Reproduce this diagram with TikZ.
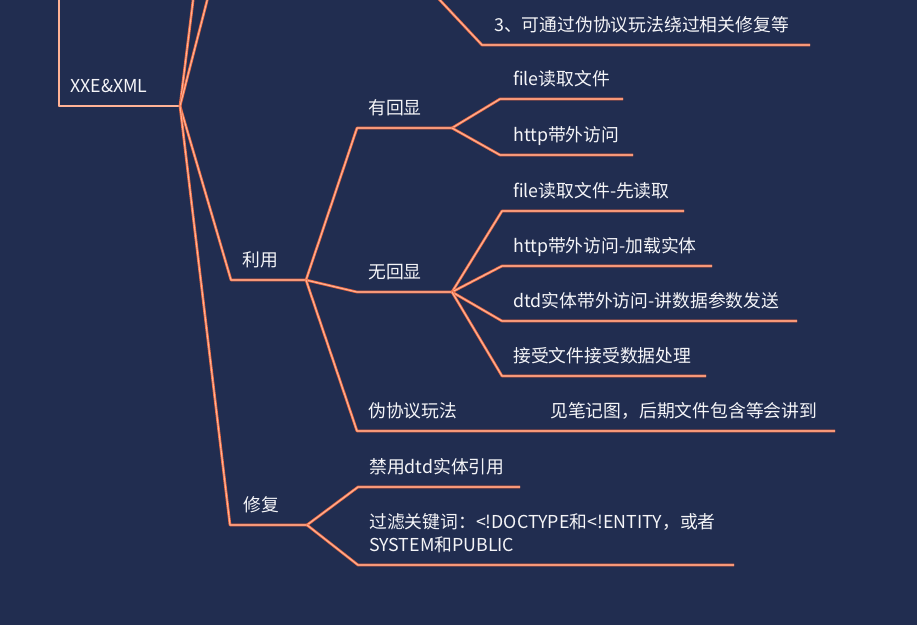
\documentclass[tikz,border=0pt]{standalone}
\usepackage{fontspec}
\setmainfont{Noto Sans CJK SC}
\definecolor{bgnavy}{RGB}{33,45,80}
\definecolor{brorange}{RGB}{236,106,66}
\definecolor{brlight}{RGB}{255,178,150}
\definecolor{txtwhite}{RGB}{245,245,248}
\begin{document}
\begin{tikzpicture}[x=1pt,y=-1pt,
  branch/.style={draw=brorange,line width=0.8pt,double=brlight,double distance=1.1pt,line join=round},
  lbl/.style={text=txtwhite,font=\fontsize{17.8}{23}\selectfont,inner sep=0pt,anchor=base west}]
\useasboundingbox (0,0) rectangle (917,625);
\fill[bgnavy] (0,0) rectangle (917,625);
% coordinates
\coordinate (top0) at (59,-3);
\coordinate (upA) at (193.5,-3);
\coordinate (upB) at (208,-3);
\coordinate (upC) at (437,-3);
\coordinate (xxeS) at (59,106);
\coordinate (xxeF) at (180,106);
\coordinate (p3S) at (482,45);
\coordinate (p3E) at (810,45);
\coordinate (lyS) at (231,280);
\coordinate (lyF) at (306,280);
\coordinate (yhS) at (357,128);
\coordinate (yhF) at (452,128);
\coordinate (whS) at (357,292);
\coordinate (whF) at (452,292);
\coordinate (wyS) at (357,431);
\coordinate (wyE) at (835,431);
\coordinate (xfS) at (230,525);
\coordinate (xfF) at (307,525);
\coordinate (jyS) at (358,487);
\coordinate (jyE) at (520,487);
\coordinate (glS) at (358,565);
\coordinate (glE) at (734,565);
\coordinate (f1S) at (500,99);
\coordinate (f1E) at (623,99);
\coordinate (h1S) at (500,155);
\coordinate (h1E) at (633,155);
\coordinate (f2S) at (502,211);
\coordinate (f2E) at (684,211);
\coordinate (h2S) at (502,266);
\coordinate (h2E) at (712,266);
\coordinate (d2S) at (502,321);
\coordinate (d2E) at (797,321);
\coordinate (r2S) at (502,376);
\coordinate (r2E) at (706,376);
% connectors
\draw[branch] (top0) -- (xxeS) -- (xxeF);
\draw[branch] (xxeF) -- (upA);
\draw[branch] (xxeF) -- (upB);
\draw[branch] (upC) -- (p3S) -- (p3E);
\draw[branch] (xxeF) -- (lyS) -- (lyF);
\draw[branch] (xxeF) -- (xfS) -- (xfF);
\draw[branch] (lyF) -- (yhS) -- (yhF);
\draw[branch] (lyF) -- (whS) -- (whF);
\draw[branch] (lyF) -- (wyS) -- (wyE);
\draw[branch] (yhF) -- (f1S) -- (f1E);
\draw[branch] (yhF) -- (h1S) -- (h1E);
\draw[branch] (whF) -- (f2S) -- (f2E);
\draw[branch] (whF) -- (h2S) -- (h2E);
\draw[branch] (whF) -- (d2S) -- (d2E);
\draw[branch] (whF) -- (r2S) -- (r2E);
\draw[branch] (xfF) -- (jyS) -- (jyE);
\draw[branch] (xfF) -- (glS) -- (glE);
% labels
\node[lbl] (p3) at ([xshift=12pt,yshift=14pt]p3S) {3、可通过伪协议玩法绕过相关修复等};
\node[lbl] (xxe) at ([xshift=11pt,yshift=14pt]xxeS) {XXE\&XML};
\node[lbl] (ly) at ([xshift=11pt,yshift=14pt]lyS) {利用};
\node[lbl] (yh) at ([xshift=11pt,yshift=14pt]yhS) {有回显};
\node[lbl] (wh) at ([xshift=11pt,yshift=14pt]whS) {无回显};
\node[lbl] (wy) at ([xshift=11pt,yshift=14pt]wyS) {伪协议玩法};
\node[lbl] (wyn) at ([xshift=193pt,yshift=14pt]wyS) {见笔记图，后期文件包含等会讲到};
\node[lbl] (xf) at ([xshift=13pt,yshift=14pt]xfS) {修复};
\node[lbl] (jy) at ([xshift=11pt,yshift=14pt]jyS) {禁用dtd实体引用};
\node[lbl,align=left] (gl) at ([xshift=11pt,yshift=14pt]glS) {过滤关键词：<!DOCTYPE和<!ENTITY，或者\\SYSTEM和PUBLIC};
\node[lbl] (f1) at ([xshift=13pt,yshift=14pt]f1S) {file读取文件};
\node[lbl] (h1) at ([xshift=13pt,yshift=14pt]h1S) {http带外访问};
\node[lbl] (f2) at ([xshift=11pt,yshift=14pt]f2S) {file读取文件-先读取};
\node[lbl] (h2) at ([xshift=11pt,yshift=14pt]h2S) {http带外访问-加载实体};
\node[lbl] (d2) at ([xshift=11pt,yshift=14pt]d2S) {dtd实体带外访问-讲数据参数发送};
\node[lbl] (r2) at ([xshift=11pt,yshift=14pt]r2S) {接受文件接受数据处理};
\end{tikzpicture}
\end{document}
